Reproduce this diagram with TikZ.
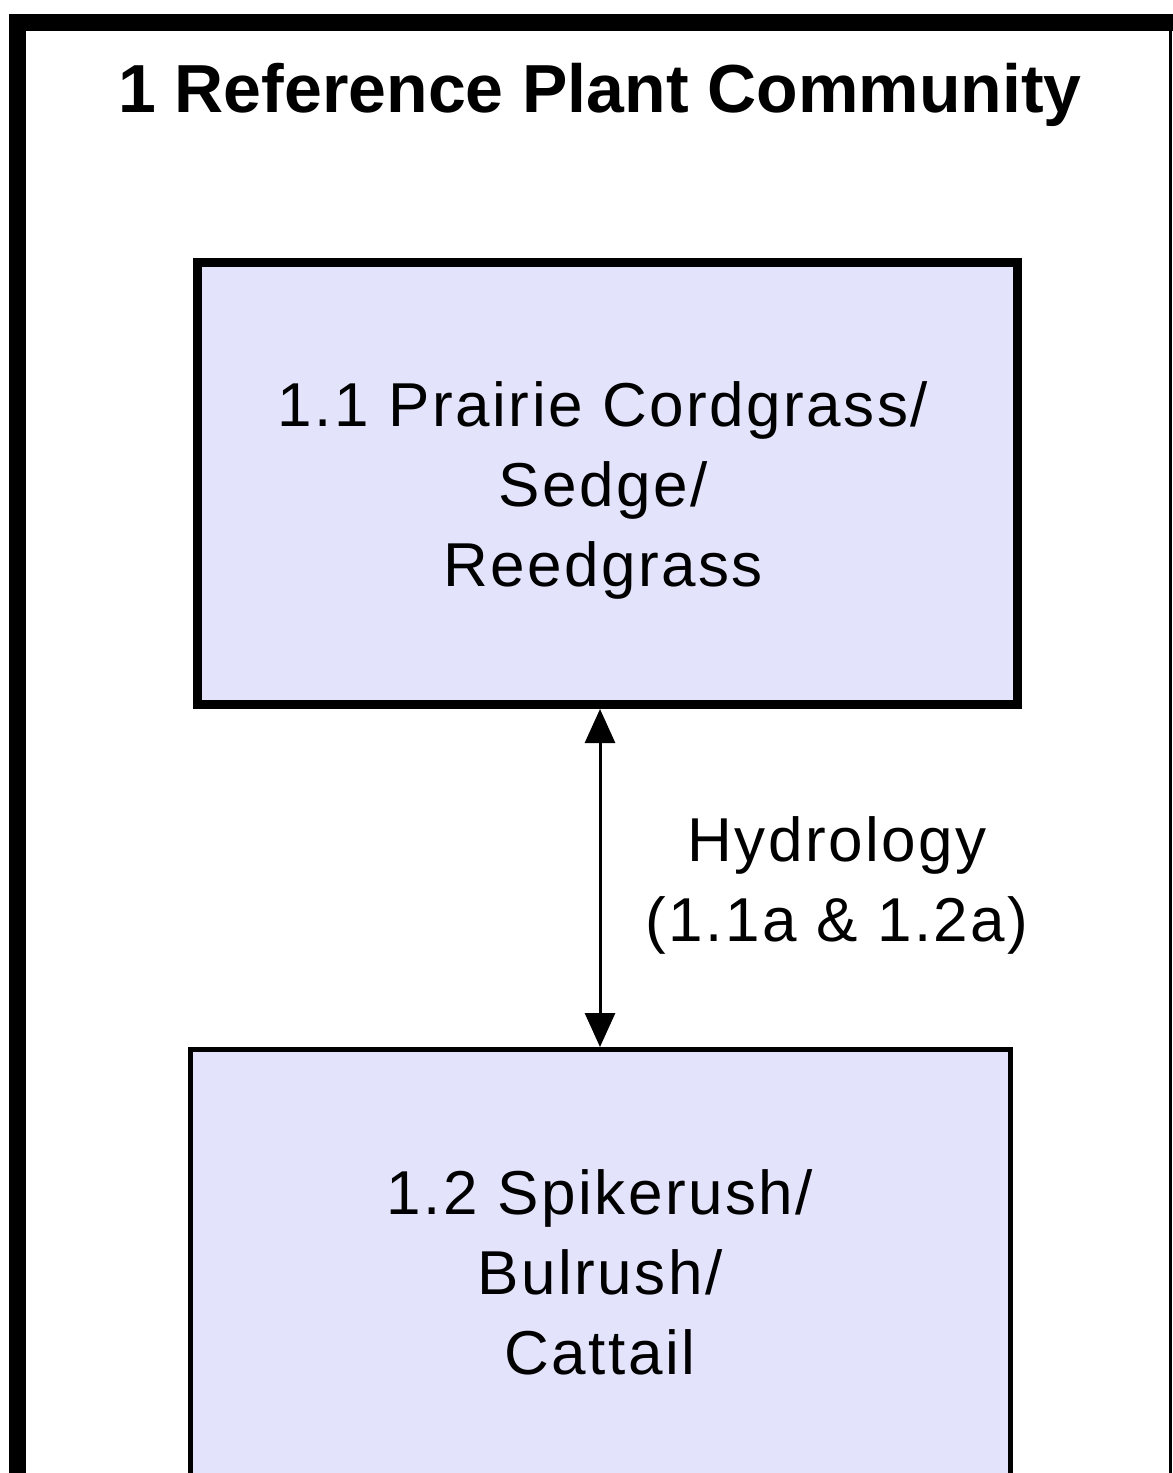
\documentclass[tikz,border=0pt]{standalone}
\usepackage{fontspec}
\setmainfont{Liberation Sans}
\newfontfamily\boxfont[LetterSpace=4]{Liberation Sans}
\usetikzlibrary{arrows.meta}
\definecolor{statefill}{RGB}{227,227,251}
\tikzset{
  frameline/.style={line width=8.5pt, line cap=rect},
  statebox/.style={draw, fill=statefill, inner sep=0pt},
  boxtext/.style={align=center, font=\boxfont\fontsize{31}{40}\selectfont},
  pathway/.style={line width=1.5pt, {Triangle[width=15pt,length=17pt]}-{Triangle[width=15pt,length=17pt]}},
}
\begin{document}
\begin{tikzpicture}[x=0.5pt, y=-0.5pt]
  \useasboundingbox (0,0) rectangle (1173,1473);
  % community frame: heavy left and top edges, light right edge
  \draw[line width=1.5pt] (1170,22) -- (1170,1480);
  \draw[frameline] (17.5,1490) -- (17.5,22.5) -- (1180,22.5);
  % title
  \node[anchor=base, font=\bfseries\fontsize{34}{40}\selectfont] (title) at (600,112) {1 Reference Plant Community};
  % community phases
  \node[statebox, line width=4.5pt, minimum width=410pt, minimum height=221pt] (p11) at (607.5,483.5) {};
  \node[statebox, line width=2.25pt, minimum width=410pt, minimum height=221pt, anchor=north] (p12) at (600.5,1047) {};
  \node[boxtext] (t11) at (603,490) {1.1 Prairie Cordgrass/\\Sedge/\\Reedgrass};
  \node[boxtext] (t12) at (600,1272) {1.2 Spikerush/\\Bulrush/\\Cattail};
  % transition between phases
  \draw[pathway] (p11.south -| 600,0) -- (p12.north -| 600,0);
  \node[boxtext] (hyd) at (837,885) {Hydrology\\(1.1a \& 1.2a)};
\end{tikzpicture}
\end{document}
